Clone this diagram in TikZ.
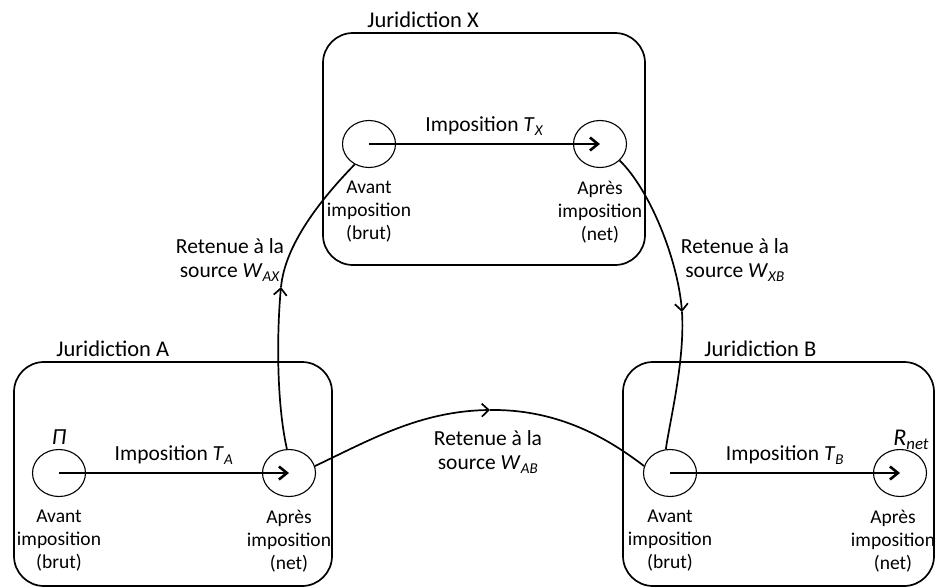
\documentclass[tikz,border=0pt]{standalone}
\usepackage{fontspec}
\setmainfont{Carlito}
\usepackage{tikz}
\usetikzlibrary{positioning, arrows.meta, shapes.geometric}

\newcommand{\ind}[2]{\textit{#1}\textsubscript{\textit{#2}}}

\begin{document}
\begin{tikzpicture}[
    x=1pt, y=-1pt,
    font=\fontsize{21.5}{24}\selectfont,
    juri/.style={rectangle, draw, line width=1.7pt, rounded corners=30pt},
    titre/.style={inner sep=0pt, font=\fontsize{22.5}{26}\selectfont},
    etat/.style={ellipse, draw, line width=1.1pt, minimum width=53pt, minimum height=47pt, inner sep=0pt},
    legende/.style={align=center, inner sep=0pt},
    etiquette/.style={align=center, inner sep=0pt, font=\fontsize{19.5}{23}\selectfont},
    impot/.style={line width=2.6pt, -{Straight Barb[length=8pt, width=13pt]}},
    flux/.style={line width=1.7pt, -{Straight Barb[length=7pt, width=13pt]}},
    trait/.style={line width=1.7pt}
    ]
    \useasboundingbox (0,0) rectangle (936,587);
    % juridictions
    \node [juri, minimum width=318pt, minimum height=224pt] (boxA) at (173,474) {};
    \node [juri, minimum width=311pt, minimum height=224pt] (boxB) at (778.5,474) {};
    \node [juri, minimum width=322pt, minimum height=232pt] (boxX) at (484,149) {};
    \node [titre, above right=4pt and 43pt of boxA.north west] (jurA) {Juridiction A};
    \node [titre, above right=4pt and 82pt of boxB.north west] (jurB) {Juridiction B};
    \node [titre, above right=4pt and 45pt of boxX.north west] (jurX) {Juridiction X};
    % etats
    \node [etat] (a1) at (59,473) {};
    \node [etat] (a2) at (289,473) {};
    \node [etat] (x1) at (369,144) {};
    \node [etat] (x2) at (600,144) {};
    \node [etat] (b1) at (670,473) {};
    \node [etat] (b2) at (900,473) {};
    \node [etiquette, below=13pt of a1] (ta1) {Avant\\imposition\\(brut)};
    \node [etiquette, below=13pt of a2] (ta2) {Après\\imposition\\(net)};
    \node [etiquette, below=13pt of x1] (tx1) {Avant\\imposition\\(brut)};
    \node [etiquette, below=13pt of x2] (tx2) {Après\\imposition\\(net)};
    \node [etiquette, below=13pt of b1] (tb1) {Avant\\imposition\\(brut)};
    \node [etiquette, below=13pt of b2, xshift=-7pt] (tb2) {Après\\imposition\\(net)};
    \node [above=4pt of a1, inner sep=0pt, font=\fontsize{23}{26}\selectfont] (pi) {\textit{Π}};
    \node [above right=6pt and -26pt of b2, inner sep=0pt, font=\fontsize{24}{26}\selectfont] (rnet) {\ind{R}{net}};
    % impositions
    \draw [impot] (a1.center) -- (a2.center) node [midway, above=4pt] (impA) {Imposition \ind{T}{A}};
    \draw [impot] (x1.center) -- (x2.center) node [midway, above=4pt] (impX) {Imposition \ind{T}{X}};
    \draw [impot] (b1.center) -- (b2.center) node [midway, above=4pt] (impB) {Imposition \ind{T}{B}};
    % retenues
    \coordinate (wAX) at (281,287);
    \coordinate (wAB) at (490,410);
    \coordinate (wXB) at (682,312);
    \draw [flux] (a2.95) .. controls (276,400) and (277,330) .. (wAX);
    \draw [trait] (wAX) .. controls (285,245) and (320,200) .. (x1.235);
    \draw [flux] (a2.15) .. controls (370,440) and (420,411) .. (wAB);
    \draw [trait] (wAB) .. controls (560,409) and (610,440) .. (b1.165);
    \draw [flux] (x2.320) .. controls (650,190) and (678,260) .. (wXB);
    \draw [trait] (wXB) .. controls (685,360) and (670,420) .. (b1.100);
    \node [legende] (lAX) at (230,260) {Retenue à la\\source \ind{W}{AX}};
    \node [legende] (lXB) at (735,260) {Retenue à la\\source \ind{W}{XB}};
    \node [legende] (lAB) at (488,452) {Retenue à la\\source \ind{W}{AB}};
\end{tikzpicture}
\end{document}
